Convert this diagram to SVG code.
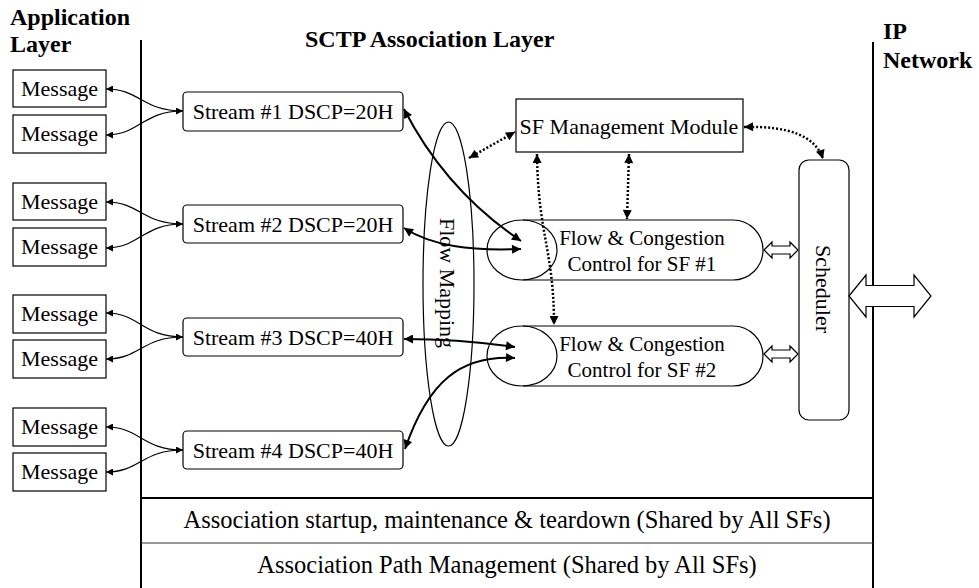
<svg xmlns="http://www.w3.org/2000/svg" width="979" height="588" viewBox="0 0 979 588" font-family="'Liberation Serif', 'Times New Roman', Times, serif">
<style>
text{font-family:'Liberation Serif','Times New Roman',Times,serif;fill:#000}
.t{font-size:22px}
.title{font-size:24px;font-weight:bold}
.row{font-size:24.5px}
.box{fill:#fff;stroke:#000;stroke-width:1.2}
.thin{fill:none;stroke:#000;stroke-width:1.2}
.thick{fill:none;stroke:#000;stroke-width:2}
.dot{fill:none;stroke:#000;stroke-width:2.5;stroke-dasharray:2 2}
.hollow{fill:#fff;stroke:#000;stroke-width:1.2}
.frame{stroke:#000;stroke-width:2;fill:none}
</style>
<defs>
<marker id="ahs" viewBox="0 0 10 10" refX="10" refY="5" markerWidth="9" markerHeight="7" markerUnits="userSpaceOnUse" orient="auto-start-reverse"><path d="M0,0 L10,5 L0,10 z" fill="#000"/></marker>
<marker id="ahl" viewBox="0 0 10 10" refX="10" refY="5" markerWidth="11" markerHeight="9" markerUnits="userSpaceOnUse" orient="auto-start-reverse"><path d="M0,0 L10,5 L0,10 z" fill="#000"/></marker>
</defs>
<rect width="979" height="588" fill="#fff"/>

<g id="labels">
<text class="title" x="10" y="25">Application</text>
<text class="title" x="10" y="52">Layer</text>
<text class="title" x="305" y="47">SCTP Association Layer</text>
<text class="title" x="883" y="39">IP</text>
<text class="title" x="883" y="68">Network</text>
</g>

<g id="frame">
<line class="frame" x1="141" y1="40" x2="141" y2="588"/>
<line class="frame" x1="873" y1="42" x2="873" y2="588"/>
<line class="frame" x1="141" y1="498" x2="873" y2="498"/>
<line x1="141" y1="543" x2="873" y2="543" stroke="#333" stroke-width="1.2"/>
</g>

<g id="row-startup"><text class="row" x="507" y="528" text-anchor="middle">Association startup, maintenance &amp; teardown (Shared by All SFs)</text></g>
<g id="row-path"><text class="row" x="507" y="573" text-anchor="middle">Association Path Management (Shared by All SFs)</text></g>

<g id="msg1"><rect class="box" x="13" y="70" width="93" height="37"/><text class="t" x="59.5" y="96" text-anchor="middle">Message</text></g>
<g id="msg2"><rect class="box" x="13" y="115" width="93" height="38"/><text class="t" x="59.5" y="141" text-anchor="middle">Message</text></g>
<g id="msg3"><rect class="box" x="13" y="183" width="93" height="37"/><text class="t" x="59.5" y="209" text-anchor="middle">Message</text></g>
<g id="msg4"><rect class="box" x="13" y="228" width="93" height="38"/><text class="t" x="59.5" y="254" text-anchor="middle">Message</text></g>
<g id="msg5"><rect class="box" x="13" y="295" width="93" height="38"/><text class="t" x="59.5" y="321" text-anchor="middle">Message</text></g>
<g id="msg6"><rect class="box" x="13" y="340" width="93" height="38"/><text class="t" x="59.5" y="366" text-anchor="middle">Message</text></g>
<g id="msg7"><rect class="box" x="13" y="408" width="93" height="38"/><text class="t" x="59.5" y="434" text-anchor="middle">Message</text></g>
<g id="msg8"><rect class="box" x="13" y="453" width="93" height="38"/><text class="t" x="59.5" y="479" text-anchor="middle">Message</text></g>

<g id="stream1"><rect class="box" x="183" y="92" width="220" height="39" rx="4"/><text class="t" x="293" y="119" text-anchor="middle">Stream #1 DSCP=20H</text></g>
<g id="stream2"><rect class="box" x="183" y="205" width="220" height="38" rx="4"/><text class="t" x="293" y="232" text-anchor="middle">Stream #2 DSCP=20H</text></g>
<g id="stream3"><rect class="box" x="183" y="318" width="220" height="38" rx="4"/><text class="t" x="293" y="345" text-anchor="middle">Stream #3 DSCP=40H</text></g>
<g id="stream4"><rect class="box" x="183" y="431" width="220" height="38" rx="4"/><text class="t" x="293" y="458" text-anchor="middle">Stream #4 DSCP=40H</text></g>

<g id="flow-mapping"><ellipse cx="448.5" cy="284" rx="25.5" ry="162" fill="none" stroke="#000" stroke-width="1.2"/><text class="t" transform="translate(447,283) rotate(90)" y="7" text-anchor="middle">Flow Mapping</text></g>

<g id="sf-mgmt"><rect class="box" x="516" y="99" width="227" height="53"/><text class="t" x="629" y="134" text-anchor="middle">SF Management Module</text></g>

<g id="fcc1">
<path d="M523,220 H733 A30,30 0 0 1 733,280 H523" fill="none" stroke="#000" stroke-width="1.2"/>
<ellipse cx="522" cy="250" rx="35" ry="30" fill="none" stroke="#000" stroke-width="1.2"/>
<text x="642" y="245" text-anchor="middle" font-size="21">Flow &amp; Congestion</text>
<text x="642" y="271" text-anchor="middle" font-size="21">Control for SF #1</text>
</g>
<g id="fcc2">
<path d="M523,326 H733 A30,30 0 0 1 733,386 H523" fill="none" stroke="#000" stroke-width="1.2"/>
<ellipse cx="522" cy="356" rx="35" ry="30" fill="none" stroke="#000" stroke-width="1.2"/>
<text x="642" y="351" text-anchor="middle" font-size="21">Flow &amp; Congestion</text>
<text x="642" y="377" text-anchor="middle" font-size="21">Control for SF #2</text>
</g>

<g id="scheduler"><rect class="box" x="799" y="160" width="50" height="260" rx="10"/><text class="t" transform="translate(823,289) rotate(90)" y="7" text-anchor="middle">Scheduler</text></g>

<g id="connectors">
<path class="thin" d="M106,89 C140,89 142,111 183,111" marker-start="url(#ahs)" marker-end="url(#ahs)"/>
<path class="thin" d="M106,135 C140,135 142,111 183,111" marker-start="url(#ahs)"/>
<path class="thin" d="M106,202 C140,202 142,224 183,224" marker-start="url(#ahs)" marker-end="url(#ahs)"/>
<path class="thin" d="M106,248 C140,248 142,224 183,224" marker-start="url(#ahs)"/>
<path class="thin" d="M106,313 C140,313 142,337 183,337" marker-start="url(#ahs)" marker-end="url(#ahs)"/>
<path class="thin" d="M106,359 C140,359 142,337 183,337" marker-start="url(#ahs)"/>
<path class="thin" d="M106,427 C140,427 142,450 183,450" marker-start="url(#ahs)" marker-end="url(#ahs)"/>
<path class="thin" d="M106,472 C140,472 142,450 183,450" marker-start="url(#ahs)"/>
<path class="thick" d="M404,109 C425,150 460,200 521,241" marker-start="url(#ahl)" marker-end="url(#ahl)"/>
<path class="thick" d="M404,228 C432,246 470,251 521,249" marker-start="url(#ahl)" marker-end="url(#ahl)"/>
<path class="thick" d="M404,339 C450,339 480,342 515,347" marker-start="url(#ahl)" marker-end="url(#ahl)"/>
<path class="thick" d="M405,449 C428,382 460,355 515,358" marker-start="url(#ahl)" marker-end="url(#ahl)"/>
<path class="dot" d="M469,158 L515,132" marker-start="url(#ahl)" marker-end="url(#ahl)"/>
<path class="dot" d="M537,154 C538,235 554,250 554,325" marker-start="url(#ahl)" marker-end="url(#ahl)"/>
<path class="dot" d="M629,154 L627,219" marker-start="url(#ahl)" marker-end="url(#ahl)"/>
<path class="dot" d="M744,127 Q812,125 823,159" marker-start="url(#ahl)" marker-end="url(#ahl)"/>
<path class="hollow" d="M764,250 L772,242 L772,246 L790,246 L790,242 L798,250 L790,258 L790,254 L772,254 L772,258 Z"/>
<path class="hollow" d="M764,354 L772,346 L772,350 L790,350 L790,346 L798,354 L790,362 L790,358 L772,358 L772,362 Z"/>
<path class="hollow" d="M849,296 L866,275 L866,285.5 L914,285.5 L914,275 L931,296 L914,317 L914,306.5 L866,306.5 L866,317 Z"/>
</g>
</svg>
